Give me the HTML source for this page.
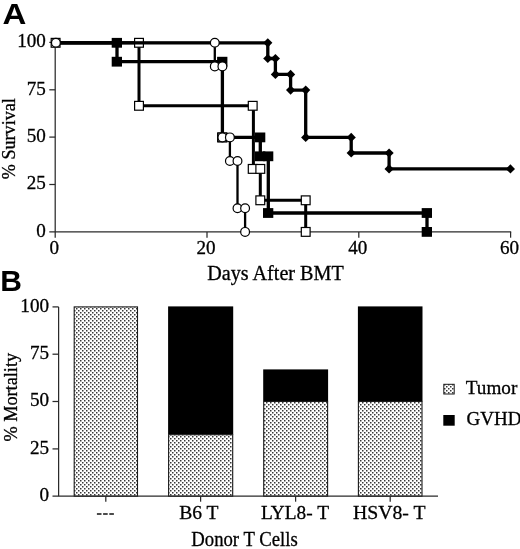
<!DOCTYPE html>
<html><head><meta charset="utf-8"><title>Figure</title>
<style>
html,body{margin:0;padding:0;background:#fff;}
body{width:520px;height:549px;overflow:hidden;font-family:"Liberation Serif",serif;}
svg{display:block;will-change:transform;}
text{font-family:"Liberation Serif",serif;fill:#000;stroke:#000;stroke-width:0.3px;}
.lbl{font-family:"Liberation Sans",sans-serif;font-weight:bold;stroke:none;}
</style></head><body>
<svg width="520" height="549" viewBox="0 0 520 549">
<defs>
<pattern id="dots" x="0" y="0" width="4" height="4" patternUnits="userSpaceOnUse">
<rect width="4" height="4" fill="#fff"/>
<rect x="0" y="0" width="1.5" height="1.5" fill="#383838"/>
<rect x="2" y="2" width="1.5" height="1.5" fill="#383838"/>
</pattern>
</defs>
<rect width="520" height="549" fill="#fff"/>

<text class="lbl" transform="translate(2.6,24) scale(1.12,1)" font-size="29.5">A</text>
<g stroke="#2a2a2a" stroke-width="1.25" fill="none">
<line x1="55.2" y1="42.4" x2="55.2" y2="231.9"/>
<line x1="49.3" y1="231.9" x2="511.2" y2="231.9"/>
<line x1="49.3" y1="42.4" x2="55.2" y2="42.4"/>
<line x1="49.3" y1="89.8" x2="55.2" y2="89.8"/>
<line x1="49.3" y1="137.1" x2="55.2" y2="137.1"/>
<line x1="49.3" y1="184.5" x2="55.2" y2="184.5"/>
<line x1="55.2" y1="231.9" x2="55.2" y2="237.70000000000002"/>
<line x1="207.0" y1="231.9" x2="207.0" y2="237.70000000000002"/>
<line x1="358.8" y1="231.9" x2="358.8" y2="237.70000000000002"/>
<line x1="510.6" y1="231.9" x2="510.6" y2="237.70000000000002"/>
</g>
<text transform="translate(45.8,47.2) scale(0.965,1)" font-size="19.8" text-anchor="end">100</text>
<text transform="translate(45.8,94.6) scale(0.965,1)" font-size="19.8" text-anchor="end">75</text>
<text transform="translate(45.8,141.9) scale(0.965,1)" font-size="19.8" text-anchor="end">50</text>
<text transform="translate(45.8,189.3) scale(0.965,1)" font-size="19.8" text-anchor="end">25</text>
<text transform="translate(45.8,236.6) scale(0.965,1)" font-size="19.8" text-anchor="end">0</text>
<text transform="translate(54.2,254.3) scale(0.965,1)" font-size="19.8" text-anchor="middle">0</text>
<text transform="translate(206.0,254.3) scale(0.965,1)" font-size="19.8" text-anchor="middle">20</text>
<text transform="translate(357.8,254.3) scale(0.965,1)" font-size="19.8" text-anchor="middle">40</text>
<text transform="translate(509.6,254.3) scale(0.965,1)" font-size="19.8" text-anchor="middle">60</text>
<text x="275.5" y="279.5" font-size="20" text-anchor="middle" textLength="136.5" lengthAdjust="spacingAndGlyphs">Days After BMT</text>
<text transform="translate(14.9,138.7) rotate(-90)" font-size="18.6" text-anchor="middle" textLength="81" lengthAdjust="spacingAndGlyphs">% Survival</text>
<path d="M55.6,42.8 L117.0,42.8 L117.0,61.7 L222.4,61.7 L222.4,137.4 L260.3,137.4 L260.3,156.3 L268.3,156.3 L268.3,213.0 L427.0,213.0 L427.0,231.9" stroke="#000" stroke-width="3.3" fill="none" stroke-linejoin="miter"/>
<rect x="111.7" y="37.9" width="10.3" height="9.8" fill="#000"/>
<rect x="111.7" y="56.8" width="10.3" height="9.8" fill="#000"/>
<rect x="217.1" y="56.8" width="10.3" height="9.8" fill="#000"/>
<rect x="217.1" y="132.5" width="10.3" height="9.8" fill="#000"/>
<rect x="255.0" y="132.5" width="10.3" height="9.8" fill="#000"/>
<rect x="255.0" y="151.4" width="10.3" height="9.8" fill="#000"/>
<rect x="263.0" y="151.4" width="10.3" height="9.8" fill="#000"/>
<rect x="263.0" y="208.1" width="10.3" height="9.8" fill="#000"/>
<rect x="421.7" y="208.1" width="10.3" height="9.8" fill="#000"/>
<rect x="421.7" y="227.0" width="10.3" height="9.8" fill="#000"/>
<path d="M55.6,42.8 L139.0,42.8 L139.0,105.8 L253.4,105.8 L253.4,168.9 L260.3,168.9 L260.3,200.3 L305.7,200.3 L305.7,231.9" stroke="#000" stroke-width="3.0" fill="none"/>
<rect x="51.2" y="38.4" width="8.8" height="8.8" fill="#fff" stroke="#000" stroke-width="1.2"/>
<rect x="134.6" y="38.4" width="8.8" height="8.8" fill="#fff" stroke="#000" stroke-width="1.2"/>
<rect x="134.6" y="101.4" width="8.8" height="8.8" fill="#fff" stroke="#000" stroke-width="1.2"/>
<rect x="248.3" y="101.4" width="8.8" height="8.8" fill="#fff" stroke="#000" stroke-width="1.2"/>
<rect x="248.3" y="164.5" width="8.8" height="8.8" fill="#fff" stroke="#000" stroke-width="1.2"/>
<rect x="255.9" y="164.5" width="8.8" height="8.8" fill="#fff" stroke="#000" stroke-width="1.2"/>
<rect x="255.9" y="195.9" width="8.8" height="8.8" fill="#fff" stroke="#000" stroke-width="1.2"/>
<rect x="301.3" y="195.9" width="8.8" height="8.8" fill="#fff" stroke="#000" stroke-width="1.2"/>
<rect x="301.3" y="227.5" width="8.8" height="8.8" fill="#fff" stroke="#000" stroke-width="1.2"/>
<rect x="218.0" y="133.0" width="8.8" height="8.8" fill="#fff" stroke="#000" stroke-width="1.2"/>
<path d="M55.6,42.8 L267.8,42.8 L267.8,58.5 L275.4,58.5 L275.4,74.4 L290.6,74.4 L290.6,90.1 L305.7,90.1 L305.7,137.4 L351.2,137.4 L351.2,153.0 L389.1,153.0 L389.1,168.9 L510.4,168.9" stroke="#000" stroke-width="3.3" fill="none"/>
<path d="M263.2,42.8 L267.8,38.2 L272.4,42.8 L267.8,47.4Z" fill="#000"/>
<path d="M263.2,58.5 L267.8,53.9 L272.4,58.5 L267.8,63.1Z" fill="#000"/>
<path d="M270.8,58.5 L275.4,53.9 L280.0,58.5 L275.4,63.1Z" fill="#000"/>
<path d="M270.8,74.4 L275.4,69.8 L280.0,74.4 L275.4,79.0Z" fill="#000"/>
<path d="M286.0,74.4 L290.6,69.8 L295.2,74.4 L290.6,79.0Z" fill="#000"/>
<path d="M286.0,90.1 L290.6,85.5 L295.2,90.1 L290.6,94.7Z" fill="#000"/>
<path d="M301.1,90.1 L305.7,85.5 L310.3,90.1 L305.7,94.7Z" fill="#000"/>
<path d="M301.1,137.4 L305.7,132.8 L310.3,137.4 L305.7,142.0Z" fill="#000"/>
<path d="M346.6,137.4 L351.2,132.8 L355.8,137.4 L351.2,142.0Z" fill="#000"/>
<path d="M346.6,153.0 L351.2,148.4 L355.8,153.0 L351.2,157.6Z" fill="#000"/>
<path d="M384.5,153.0 L389.1,148.4 L393.7,153.0 L389.1,157.6Z" fill="#000"/>
<path d="M384.5,168.9 L389.1,164.3 L393.7,168.9 L389.1,173.5Z" fill="#000"/>
<path d="M505.8,168.9 L510.4,164.3 L515.0,168.9 L510.4,173.5Z" fill="#000"/>
<path d="M55.6,42.8 L214.8,42.8 L214.8,66.4 L222.4,66.4 L222.4,137.4 L229.9,137.4 L229.9,161.0 L237.5,161.0 L237.5,208.3 L245.1,208.3 L245.1,231.9" stroke="#000" stroke-width="2.3" fill="none"/>
<circle cx="55.9" cy="42.8" r="4.4" fill="#fff" stroke="#000" stroke-width="1.2"/>
<circle cx="214.8" cy="42.8" r="4.4" fill="#fff" stroke="#000" stroke-width="1.2"/>
<circle cx="214.8" cy="66.4" r="4.4" fill="#fff" stroke="#000" stroke-width="1.2"/>
<circle cx="222.4" cy="66.4" r="4.4" fill="#fff" stroke="#000" stroke-width="1.2"/>
<circle cx="222.4" cy="137.4" r="4.4" fill="#fff" stroke="#000" stroke-width="1.2"/>
<circle cx="229.9" cy="137.4" r="4.4" fill="#fff" stroke="#000" stroke-width="1.2"/>
<circle cx="229.9" cy="161.0" r="4.4" fill="#fff" stroke="#000" stroke-width="1.2"/>
<circle cx="237.5" cy="161.0" r="4.4" fill="#fff" stroke="#000" stroke-width="1.2"/>
<circle cx="237.5" cy="208.3" r="4.4" fill="#fff" stroke="#000" stroke-width="1.2"/>
<circle cx="245.1" cy="208.3" r="4.4" fill="#fff" stroke="#000" stroke-width="1.2"/>
<circle cx="245.1" cy="231.9" r="4.4" fill="#fff" stroke="#000" stroke-width="1.2"/>
<text class="lbl" transform="translate(0.2,290.6) scale(1.045,1)" font-size="28.7">B</text>
<rect x="74.2" y="306.9" width="63.3" height="189.3" fill="url(#dots)" stroke="#1a1a1a" stroke-width="1.1"/>
<rect x="168.1" y="306.4" width="65.1" height="128.3" fill="#000"/>
<rect x="168.6" y="434.7" width="64.1" height="61.5" fill="url(#dots)" stroke="#1a1a1a" stroke-width="1.1"/>
<rect x="263.2" y="369.4" width="64.9" height="32.1" fill="#000"/>
<rect x="263.7" y="401.5" width="63.9" height="94.7" fill="url(#dots)" stroke="#1a1a1a" stroke-width="1.1"/>
<rect x="357.9" y="306.4" width="64.6" height="95.1" fill="#000"/>
<rect x="358.4" y="401.5" width="63.6" height="94.7" fill="url(#dots)" stroke="#1a1a1a" stroke-width="1.1"/>
<g stroke="#2a2a2a" stroke-width="1.25" fill="none">
<line x1="58.6" y1="306.9" x2="58.6" y2="496.2"/>
<line x1="52.5" y1="496.2" x2="438" y2="496.2"/>
<line x1="52.5" y1="306.9" x2="58.6" y2="306.9"/>
<line x1="52.5" y1="354.2" x2="58.6" y2="354.2"/>
<line x1="52.5" y1="401.5" x2="58.6" y2="401.5"/>
<line x1="52.5" y1="448.9" x2="58.6" y2="448.9"/>
<line x1="105.8" y1="496.2" x2="105.8" y2="501.7"/>
<line x1="200.6" y1="496.2" x2="200.6" y2="501.7"/>
<line x1="295.6" y1="496.2" x2="295.6" y2="501.7"/>
<line x1="390.2" y1="496.2" x2="390.2" y2="501.7"/>
</g>
<text transform="translate(49,311.7) scale(0.965,1)" font-size="19.8" text-anchor="end">100</text>
<text transform="translate(49,359.0) scale(0.965,1)" font-size="19.8" text-anchor="end">75</text>
<text transform="translate(49,406.3) scale(0.965,1)" font-size="19.8" text-anchor="end">50</text>
<text transform="translate(49,453.7) scale(0.965,1)" font-size="19.8" text-anchor="end">25</text>
<text transform="translate(49,501.0) scale(0.965,1)" font-size="19.8" text-anchor="end">0</text>
<path d="M96.9,514.1h4.6M103.1,514.1h4.6M109.3,514.1h4.6" stroke="#111" stroke-width="1.5" fill="none"/>
<text x="198.8" y="519.4" font-size="19.7" text-anchor="middle" textLength="39.3" lengthAdjust="spacingAndGlyphs">B6 T</text>
<text x="295" y="519.4" font-size="19.7" text-anchor="middle" textLength="68" lengthAdjust="spacingAndGlyphs">LYL8- T</text>
<text x="389.2" y="519.4" font-size="19.7" text-anchor="middle" textLength="72.5" lengthAdjust="spacingAndGlyphs">HSV8- T</text>
<text x="244.5" y="546.2" font-size="20" text-anchor="middle" textLength="106.5" lengthAdjust="spacingAndGlyphs">Donor T Cells</text>
<text transform="translate(17.1,397.2) rotate(-90)" font-size="18.3" text-anchor="middle" textLength="88.5" lengthAdjust="spacingAndGlyphs">% Mortality</text>
<rect x="443.8" y="384.3" width="10.4" height="9.7" fill="url(#dots)" stroke="#1a1a1a" stroke-width="1"/>
<text x="465.8" y="393.8" font-size="19.7" textLength="51.5" lengthAdjust="spacingAndGlyphs">Tumor</text>
<rect x="443.3" y="415" width="11.4" height="10.7" fill="#000"/>
<text transform="translate(466.6,425.1) scale(0.965,1)" font-size="19.7">GVHD</text>
</svg></body></html>
